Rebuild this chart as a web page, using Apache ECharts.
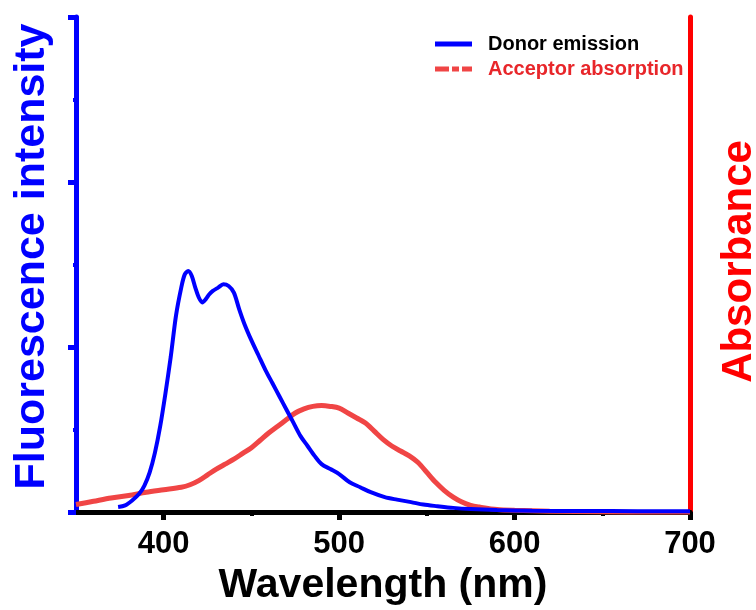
<!DOCTYPE html>
<html>
<head>
<meta charset="utf-8">
<script src="https://cdn.jsdelivr.net/npm/echarts@6/dist/echarts.min.js"></script>
<style>
html,body{margin:0;padding:0;background:#fff;}
#chart{width:756px;height:610px;}
</style>
</head>
<body>
<div id="chart"></div>
<script>
// Donor emission (fluorescence), wavelength in nm
const donorWavelength = [374,378,382,386,389,392,395,398,401,404,407,410,412,414,416,418,420,422,424,426,428,431,434,437,440,443,446,450,454,458,462,466,470,474,478,482,486,490,495,500,506,512,518,526,533,541,548,556,565,575,590,610,640,670,700];
const donorIntensity  = [0.03,0.04,0.07,0.11,0.16,0.24,0.36,0.52,0.72,0.94,1.19,1.36,1.44,1.46,1.43,1.36,1.30,1.27,1.29,1.32,1.34,1.36,1.38,1.37,1.33,1.23,1.14,1.04,0.95,0.86,0.78,0.70,0.62,0.54,0.46,0.40,0.34,0.29,0.26,0.23,0.18,0.15,0.12,0.09,0.075,0.06,0.045,0.035,0.025,0.018,0.012,0.008,0.006,0.005,0.005];
// Acceptor absorption
const acceptorWavelength = [350,360,370,380,390,400,410,415,420,425,430,435,440,445,450,455,460,465,470,475,480,485,490,495,500,505,510,515,520,525,530,535,540,545,550,555,560,565,570,575,580,590,600,620,650,680,700];
const acceptorAbsorbance = [0.045,0.065,0.085,0.10,0.12,0.135,0.15,0.165,0.19,0.225,0.26,0.29,0.32,0.355,0.39,0.435,0.48,0.52,0.56,0.60,0.625,0.64,0.645,0.64,0.63,0.60,0.57,0.54,0.49,0.44,0.40,0.37,0.34,0.30,0.24,0.18,0.13,0.09,0.06,0.04,0.03,0.015,0.01,0.005,0.0,-0.005,-0.008];
// Axis ticks
const xMajorTicks = [400,500,600,700];
const xMinorTicks = [450,550,650];
const seriesNames = ['Donor emission','Acceptor absorption'];

const donorData = donorWavelength.map((w,i)=>[w,donorIntensity[i]]);
const acceptorData = acceptorWavelength.map((w,i)=>[w,acceptorAbsorbance[i]]);

const FONT = '"Liberation Sans", Arial, sans-serif';
const chart = echarts.init(document.getElementById('chart'));
chart.setOption({
  animation:false,
  backgroundColor:'#fff',
  grid:{left:76,right:66,top:17,bottom:98,containLabel:false,outerBoundsMode:'none'},
  legend:{
    orient:'vertical', left:435, top:34, padding:0, itemWidth:37, itemHeight:5, itemGap:5,
    textStyle:{fontFamily:FONT,fontWeight:'bold',fontSize:20,padding:[0,0,0,11]},
    data:[
      {name:seriesNames[0],icon:'rect',itemStyle:{color:'#0000FF'},textStyle:{color:'#000'}},
      {name:seriesNames[1],icon:'path://M0,0h14v5h-14z M17,0h7v5h-7z M27,0h10v5h-10z',itemStyle:{color:'#F04545'},textStyle:{color:'#E8262A'}}
    ]
  },
  xAxis:[
    {type:'value',position:'bottom',min:350,max:700,
     name:'Wavelength (nm)',nameLocation:'middle',nameGap:53,
     nameTextStyle:{fontFamily:FONT,fontWeight:'bold',fontSize:41,color:'#000'},
     axisLine:{show:true,lineStyle:{color:'#000',width:5}},
     axisTick:{show:true,customValues:xMajorTicks,length:8,lineStyle:{color:'#000',width:5}},
     axisLabel:{show:true,customValues:xMajorTicks,margin:17,fontFamily:FONT,fontWeight:'bold',fontSize:31,color:'#000'},
     splitLine:{show:false}},
    {type:'value',position:'top',min:350,max:700,
     axisLine:{show:true,lineStyle:{color:'#000',width:5}},
     axisTick:{show:false},axisLabel:{show:false},splitLine:{show:false}},
    {type:'value',position:'bottom',min:350,max:700,
     axisLine:{show:false},
     axisTick:{show:true,customValues:xMinorTicks,length:4,lineStyle:{color:'#000',width:4}},
     axisLabel:{show:false},splitLine:{show:false}}
  ],
  yAxis:[
    {type:'value',position:'left',min:0,max:3,interval:1,
     name:'Fluorescence intensity',nameLocation:'middle',nameGap:22,
     nameTextStyle:{fontFamily:FONT,fontWeight:'bold',fontSize:43,color:'#0000FF',padding:[0,0,0,16]},
     axisLine:{show:true,lineStyle:{color:'#0000FF',width:5}},
     axisTick:{show:true,length:8,lineStyle:{color:'#0000FF',width:5}},
     minorTick:{show:true,splitNumber:2,length:3,lineStyle:{color:'#0000FF',width:4}},
     axisLabel:{show:false},splitLine:{show:false}},
    {type:'value',position:'right',min:0,max:3,interval:1,
     name:'Absorbance',nameLocation:'middle',nameGap:28,nameRotate:90,
     nameTextStyle:{fontFamily:FONT,fontWeight:'bold',fontSize:42,color:'#FF0000',padding:[0,0,0,6]},
     axisLine:{show:true,lineStyle:{color:'#FF0000',width:5}},
     axisTick:{show:false},axisLabel:{show:false},splitLine:{show:false}}
  ],
  series:[
    {name:seriesNames[1],type:'line',xAxisIndex:0,yAxisIndex:1,data:acceptorData,smooth:0.3,showSymbol:false,
     lineStyle:{color:'#F04545',width:5},itemStyle:{color:'#F04545'},z:2},
    {name:seriesNames[0],type:'line',xAxisIndex:0,yAxisIndex:0,data:donorData,smooth:0.3,showSymbol:false,
     lineStyle:{color:'#0000FF',width:4},itemStyle:{color:'#0000FF'},z:3}
  ]
});
</script>
</body>
</html>
